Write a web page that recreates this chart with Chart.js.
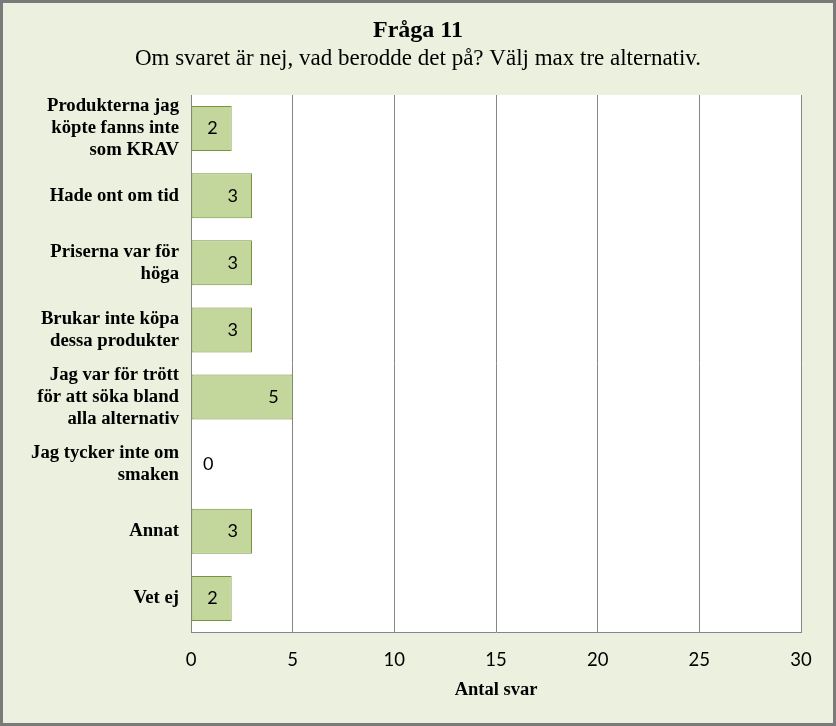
<!DOCTYPE html>
<html><head><meta charset="utf-8">
<script src="https://cdn.jsdelivr.net/npm/chart.js@4/dist/chart.umd.min.js"></script>
<style>html,body{margin:0;padding:0;overflow:hidden;background:#EBF1DE}#wrap{width:836px;height:726px;position:relative}</style>
</head><body><div id="wrap"><canvas id="c"></canvas></div>
<script>
const categories = [
  ["Produkterna jag","köpte fanns inte","som KRAV"],
  "Hade ont om tid",
  ["Priserna var för","höga"],
  ["Brukar inte köpa","dessa produkter"],
  ["Jag var för trött","för att söka bland","alla alternativ"],
  ["Jag tycker inte om","smaken"],
  "Annat",
  "Vet ej"
];
const values = [2, 3, 3, 3, 5, 0, 3, 2];
const xTicks = [0, 5, 10, 15, 20, 25, 30];
const chartTitle = "Fråga 11";
const chartSubtitle = "Om svaret är nej, vad berodde det på? Välj max tre alternativ.";
const xAxisTitle = "Antal svar";

const bgPlugin = {
  id: 'bg',
  beforeDraw(chart) {
    const {ctx, width, height, chartArea: a} = chart;
    ctx.save();
    ctx.fillStyle = '#EBF1DE';
    ctx.fillRect(0, 0, width, height);
    ctx.fillStyle = '#FFFFFF';
    ctx.fillRect(a.left, a.top, a.right - a.left, a.bottom - a.top);
    ctx.restore();
  },
  afterDraw(chart) {
    const {ctx, width, height} = chart;
    ctx.save();
    ctx.strokeStyle = '#7A7A7A';
    ctx.lineWidth = 3;
    ctx.strokeRect(1.5, 1.5, width - 3, height - 3);
    ctx.restore();
  }
};

const labelPlugin = {
  id: 'barLabels',
  afterDatasetsDraw(chart) {
    const {ctx} = chart;
    const meta = chart.getDatasetMeta(0);
    ctx.save();
    ctx.font = '18px Lato';
    ctx.fillStyle = '#000';
    ctx.textBaseline = 'middle';
    ctx.textAlign = 'left';
    meta.data.forEach((bar, i) => {
      const txt = String(values[i]);
      const w = ctx.measureText(txt).width;
      let left = bar.x - 14 - w;
      if (left < bar.base + 12) left = bar.base + 12;
      ctx.fillText(txt, left, bar.y);
    });
    ctx.restore();
  }
};

new Chart(document.getElementById('c'), {
  type: 'bar',
  data: {
    labels: categories,
    datasets: [{
      data: values,
      backgroundColor: '#C3D69B',
      borderColor: '#77933C',
      borderWidth: 1,
      borderSkipped: false,
      categoryPercentage: 1,
      barPercentage: 0.67
    }]
  },
  options: {
    indexAxis: 'y',
    responsive: true,
    maintainAspectRatio: false,
    animation: false,
    layout: {padding: {left: 10, right: 10, top: 0, bottom: 0}},
    plugins: {
      legend: {display: false},
      tooltip: {enabled: false},
      title: {
        display: true, text: chartTitle, color: '#000',
        font: {family: 'Liberation Serif', size: 24, weight: 'bold', lineHeight: 1.2},
        padding: {top: 16, bottom: 0}
      },
      subtitle: {
        display: true, text: chartSubtitle, color: '#000',
        font: {family: 'Liberation Serif', size: 23, weight: 'normal', lineHeight: 1.2},
        padding: {top: 0, bottom: 22.6}
      }
    },
    scales: {
      x: {
        min: 0, max: 30,
        afterBuildTicks: (s) => { s.ticks = xTicks.map(v => ({value: v})); },
        afterFit: (s) => { s.height = 94; },
        grid: {color: '#868686', lineWidth: 1, drawTicks: false},
        border: {display: true, color: '#868686', width: 1},
        ticks: {color: '#000', font: {family: 'Lato', size: 18.5}, padding: 17, maxRotation: 0},
        title: {
          display: true, text: xAxisTitle, color: '#000',
          font: {family: 'Liberation Serif', size: 18.5, weight: 'bold', lineHeight: 1.2},
          padding: {top: 0, bottom: 24.5}
        }
      },
      y: {
        afterFit: (s) => { s.width = 181; },
        grid: {display: false, drawTicks: false},
        border: {display: true, color: '#868686', width: 1},
        ticks: {color: '#000', font: {family: 'Liberation Serif', size: 18.7, weight: 'bold', lineHeight: 1.18}, padding: 12, autoSkip: false}
      },
      yRightSpace: {
        type: 'category',
        position: 'right',
        display: true,
        afterFit: (s) => { s.width = 25; },
        grid: {display: false, drawTicks: false},
        border: {display: false},
        ticks: {display: false}
      }
    }
  },
  plugins: [bgPlugin, labelPlugin]
});
</script>
</body></html>
